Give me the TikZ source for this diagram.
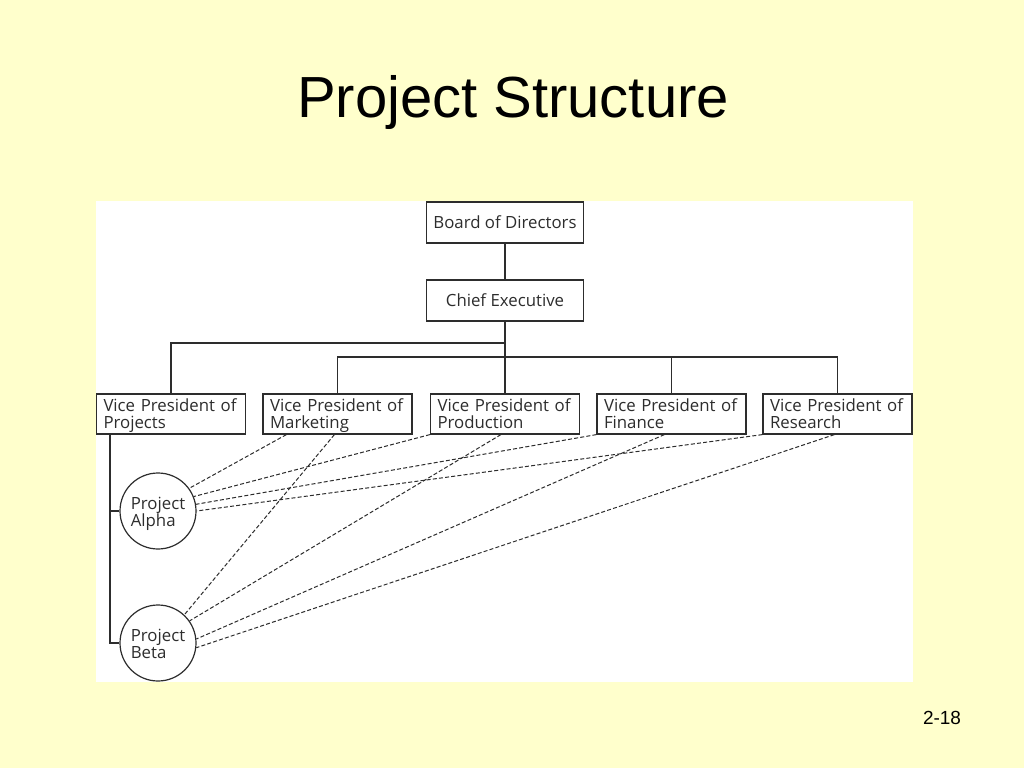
\documentclass[tikz,border=0pt]{standalone}
\usepackage{fontspec}
\setmainfont{Open Sans}
\newfontfamily\arialf{Liberation Sans}
\definecolor{bgyellow}{RGB}{255,255,204}
\definecolor{ink}{RGB}{45,45,45}
\newcommand{\bxa}{\rule{0pt}{16.5pt}}
\newcommand{\bxb}{\rule[-5pt]{0pt}{5pt}}
\newcommand{\cxa}{\rule{0pt}{18pt}}
\newcommand{\cxb}{\rule[-4.5pt]{0pt}{4.5pt}}
\begin{document}
\begin{tikzpicture}[x=1pt,y=-1pt,
  orgbox/.style={draw=ink, line width=1.2pt, fill=white, text=ink, inner sep=0pt, font=\fontsize{16.8}{17.5}\selectfont},
  vpbox/.style={orgbox, minimum width=149pt, minimum height=40pt, text width=135pt, align=left},
  topbox/.style={orgbox, minimum width=157pt, minimum height=41pt, align=center},
  projcirc/.style={orgbox, circle, minimum size=76pt, align=left},
  treeline/.style={draw=ink, line width=1.2pt},
  linkline/.style={draw=ink, line width=1pt, dash pattern=on 4pt off 2.2pt}
]
\fill[bgyellow] (0,0) rectangle (1024,768);
\fill[white] (96,201) rectangle (913,682);
\useasboundingbox (0,0) rectangle (1024,768);

\node[font=\arialf\fontsize{58}{60}\selectfont, anchor=base] (title) at (513,117) {Project Structure};
\node[font=\arialf\fontsize{19}{20}\selectfont, anchor=base] (pg) at (942,724) {2-18};

\node[topbox] (board) at (505,222.5) {Board of Directors};
\node[topbox] (ceo) at (505,300.5) {Chief Executive};

\node[vpbox] (vpp) at (171,414) {\bxa Vice President of\\\bxb Projects};
\node[vpbox] (vpm) at (337.5,414) {\bxa Vice President of\\\bxb Marketing};
\node[vpbox] (vpr) at (505,414) {\bxa Vice President of\\\bxb Production};
\node[vpbox] (vpf) at (671.5,414) {\bxa Vice President of\\\bxb Finance};
\node[vpbox] (vpx) at (837.5,414) {\bxa Vice President of\\\bxb Research};

\node[projcirc] (alpha) at (158,511) {\cxa Project\\\cxb Alpha};
\node[projcirc] (beta) at (158,643) {\cxa Project\\\cxb Beta};

\coordinate (h1) at (0,343);
\coordinate (h2) at (0,357);
\coordinate (lx) at (110,0);

\draw[treeline] (board) -- (ceo);
\draw[treeline] (ceo.south) -- (vpr.north);
\draw[treeline] (ceo.south |- h1) -| (vpp.north);
\draw[treeline] (vpm.north) |- (vpx.north |- h2) -- (vpx.north);
\draw[treeline] (vpf.north) -- (vpf.north |- h2);
\draw[treeline] (vpp.south -| lx) |- (beta.west);
\draw[treeline] (alpha.west -| lx) -- (alpha.west);

\draw[linkline] ([xshift=24pt]vpm.south west) -- (alpha.36);
\draw[linkline] (vpr.south west) -- (alpha.22);
\draw[linkline] (vpf.south west) -- (alpha.10);
\draw[linkline] (vpx.south west) -- (alpha.0);
\draw[linkline] ([xshift=72pt]vpm.south west) -- (beta.47);
\draw[linkline] ([xshift=71pt]vpr.south west) -- (beta.35);
\draw[linkline] ([xshift=68pt]vpf.south west) -- (beta.6);
\draw[linkline] ([xshift=72pt]vpx.south west) -- (beta.-7);
\end{tikzpicture}
\end{document}
